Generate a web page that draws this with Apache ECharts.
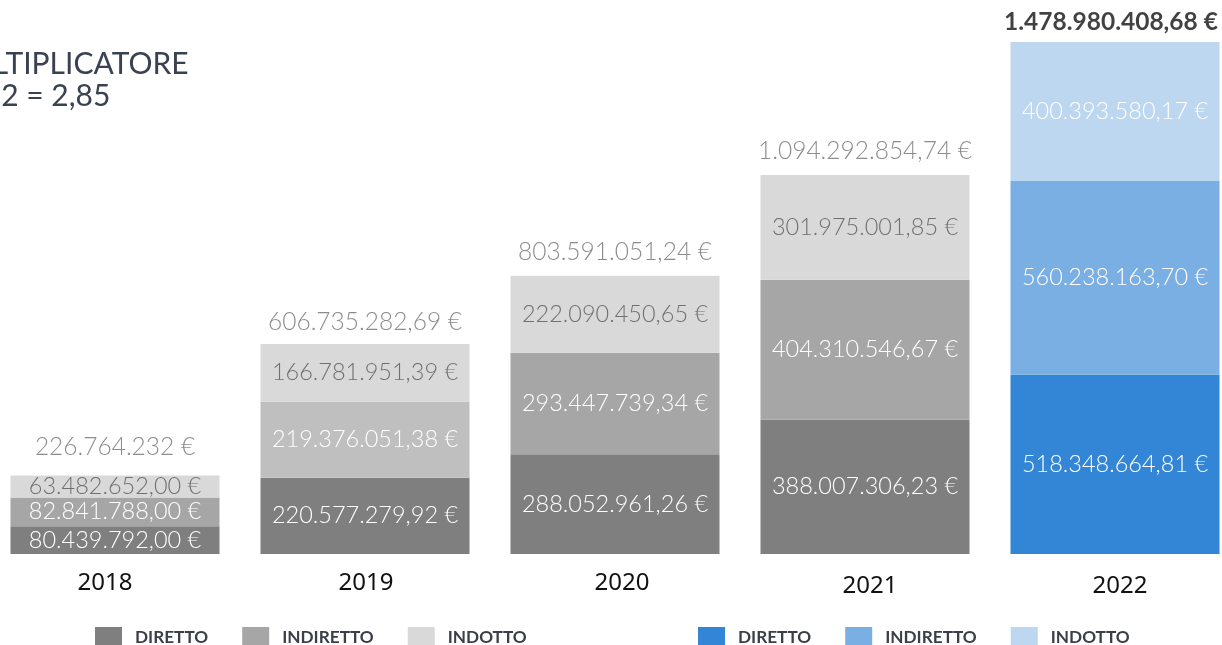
<!DOCTYPE html>
<html>
<head>
<meta charset="utf-8">
<script src="https://cdn.jsdelivr.net/npm/echarts@6/dist/echarts.min.js"></script>
<style>
html,body{margin:0;padding:0;background:#fff;}
#chart{width:1222px;height:645px;}
</style>
</head>
<body>
<div id="chart"></div>
<script>
const years = ['2018', '2019', '2020', '2021', '2022'];
const diretto = [80439792.00, 220577279.92, 288052961.26, 388007306.23, 518348664.81];
const indiretto = [82841788.00, 219376051.38, 293447739.34, 404310546.67, 560238163.70];
const indotto = [63482652.00, 166781951.39, 222090450.65, 301975001.85, 400393580.17];
const totals = [226764232, 606735282.69, 803591051.24, 1094292854.74, 1478980408.68];
const totalDecimals = [0, 2, 2, 2, 2];
const legendNames = ['DIRETTO', 'INDIRETTO', 'INDOTTO'];
const multiplierLine1 = 'MOLTIPLICATORE';
const multiplierLine2 = '2022 = 2,85';

// styling (not data)
const grayColors = ['#7f7f7f', '#a6a6a6', '#d9d9d9'];
const grayMidByYear = ['#a6a6a6', '#bfbfbf', '#a6a6a6', '#a6a6a6'];
const blueColors = ['#3385d6', '#7aafe3', '#bdd7f0'];
const totalLabelDistance = [16, 9, 11, 12, 7];
const yearLabelPad = [[0, 20, 0, 0], [0, 0, 0, 2], [0, 0, 0, 14], [3, 0, 0, 10], [3, 0, 0, 10]];

function fmt(v, dec) {
  const fixed = Math.abs(v).toFixed(dec);
  let [ip, dp] = fixed.split('.');
  ip = ip.replace(/\B(?=(\d{3})+(?!\d))/g, '.');
  return ip + (dp ? ',' + dp : '') + ' €';
}

const labelFont = 'Lato';
const segs = [diretto, indiretto, indotto];
const series = [];
segs.forEach((arr, si) => {
  series.push({
    name: 'g_' + legendNames[si],
    type: 'bar',
    stack: 'tot',
    barWidth: 209,
    itemStyle: { color: grayColors[si] },
    data: arr.map((v, i) => {
      if (i === 4) return '-';
      const item = { value: v };
      if (si === 1) item.itemStyle = { color: grayMidByYear[i] };
      return item;
    }),
    label: {
      show: true, position: 'inside',
      formatter: p => fmt(p.value, 2),
      color: si === 2 ? '#707070' : '#ffffff',
      fontFamily: labelFont, fontWeight: 300, fontSize: 23.5
    }
  });
});
segs.forEach((arr, si) => {
  series.push({
    name: 'b_' + legendNames[si],
    type: 'bar',
    stack: 'tot',
    barWidth: 209,
    itemStyle: { color: blueColors[si] },
    data: arr.map((v, i) => i === 4 ? v : '-'),
    label: {
      show: true, position: 'inside',
      formatter: p => fmt(p.value, 2),
      color: '#ffffff',
      fontFamily: labelFont, fontWeight: 300, fontSize: 23.5
    }
  });
});
series.push({
  type: 'scatter',
  symbolSize: 0,
  silent: true,
  data: totals.map((v, i) => {
    const item = { value: v, label: { distance: totalLabelDistance[i] } };
    if (i === 4) {
      item.label = { color: '#111111', fontWeight: 'bold', fontSize: 24.5, distance: totalLabelDistance[i], offset: [-4, 0] };
    }
    return item;
  }),
  label: {
    show: true, position: 'top',
    formatter: p => fmt(p.value, totalDecimals[p.dataIndex]),
    color: '#6f6f6f', fontFamily: labelFont, fontWeight: 300, fontSize: 24.5
  },
  z: 5
});

const legendCommon = {
  top: 622,
  itemWidth: 27,
  itemHeight: 20,
  itemGap: 34,
  icon: 'rect',
  formatter: n => n.slice(2),
  textStyle: { color: '#3a3f48', fontFamily: 'Lato', fontWeight: 'bold', fontSize: 17.2, padding: [0, 0, 0, 8] },
  selectedMode: false
};

const chart = echarts.init(document.getElementById('chart'));
chart.setOption({
  animation: false,
  backgroundColor: '#ffffff',
  grid: { left: -10, right: -18, top: 0, bottom: 91, containLabel: false, outerBoundsMode: 'none' },
  xAxis: {
    type: 'category',
    data: years.map((y, i) => ({ value: y, textStyle: { padding: yearLabelPad[i] } })),
    axisLine: { show: false },
    axisTick: { show: false },
    axisLabel: { color: '#111111', fontFamily: 'Noto Sans', fontSize: 24, margin: 17 }
  },
  yAxis: {
    type: 'value', min: 0, max: 1600000000,
    show: false, splitLine: { show: false }
  },
  legend: [
    Object.assign({}, legendCommon, { left: 90, data: legendNames.map(n => 'g_' + n) }),
    Object.assign({}, legendCommon, { left: 693, data: legendNames.map(n => 'b_' + n) })
  ],
  graphic: [{
    type: 'text',
    left: -59, top: 49,
    style: { text: multiplierLine1, fill: '#3a4150', fontFamily: 'Lato', fontSize: 30 }
  }, {
    type: 'text',
    left: -51, top: 81,
    style: { text: multiplierLine2, fill: '#3a4150', fontFamily: 'Lato', fontSize: 30 }
  }],
  series: series
});
</script>
</body>
</html>
